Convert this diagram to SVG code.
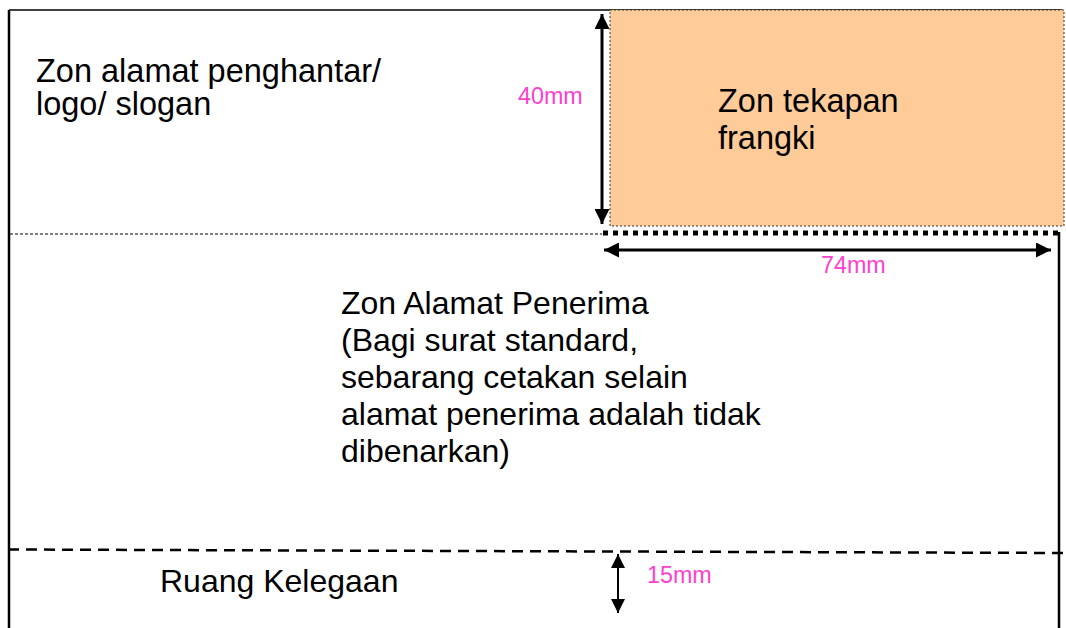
<svg xmlns="http://www.w3.org/2000/svg" width="1066" height="628" viewBox="0 0 1066 628">
<style>
.t{font-family:"Liberation Sans",Arial,sans-serif;fill:#000;font-size:32.5px}
.c{font-size:32px}
.m{font-family:"Liberation Sans",Arial,sans-serif;fill:#FF3FCF;font-size:23.3px}
.ln{stroke:#000;fill:none}
</style>
<defs>
<marker id="ah" viewBox="0 0 10 10" refX="10" refY="5" markerWidth="5" markerHeight="5" orient="auto-start-reverse" markerUnits="strokeWidth">
<path d="M0,0 L10,5 L0,10 z" fill="#000"/>
</marker>
<marker id="ah2" viewBox="0 0 10 10" refX="10" refY="5" markerWidth="7" markerHeight="7" orient="auto-start-reverse" markerUnits="strokeWidth">
<path d="M0,0 L10,5 L0,10 z" fill="#000"/>
</marker>
</defs>
<rect width="1066" height="628" fill="#fff"/>
<g id="envelope">
<line class="ln" x1="9" y1="10" x2="1062" y2="10" stroke="#555" stroke-width="1.5"/>
<line class="ln" x1="9" y1="10" x2="9" y2="628" stroke-width="2.5"/>
<line class="ln" x1="1059" y1="232" x2="1059" y2="628" stroke-width="2.5"/>
</g>
<g id="sender-zone">
<text class="t" x="36" y="82">Zon alamat penghantar/</text>
<text class="t" x="36" y="115">logo/ slogan</text>
</g>
<g id="franking-zone">
<rect x="610" y="10" width="454" height="216" fill="#FFCC99" stroke="#333" stroke-width="1" stroke-dasharray="2,2"/>
<text class="t" x="718" y="112">Zon tekapan</text>
<text class="t" x="718" y="149">frangki</text>
</g>
<g id="recipient-zone">
<text class="t c" x="341" y="314">Zon Alamat Penerima</text>
<text class="t c" x="341" y="351">(Bagi surat standard,</text>
<text class="t c" x="341" y="388">sebarang cetakan selain</text>
<text class="t c" x="341" y="425">alamat penerima adalah tidak</text>
<text class="t c" x="341" y="462">dibenarkan)</text>
</g>
<g id="clearance-zone">
<text class="t c" x="160" y="592">Ruang Kelegaan</text>
</g>
<g id="connectors">
<line class="ln" x1="10" y1="234" x2="602" y2="234" stroke-width="1" stroke-dasharray="3,2"/>
<line class="ln" x1="603" y1="233" x2="1062" y2="233" stroke-width="5" stroke-dasharray="5,5"/>
<line class="ln" x1="602" y1="14" x2="602" y2="224" stroke-width="3" marker-start="url(#ah)" marker-end="url(#ah)"/>
<line class="ln" x1="604" y1="250" x2="1051" y2="250" stroke-width="3" marker-start="url(#ah)" marker-end="url(#ah)"/>
<line class="ln" x1="8" y1="549.5" x2="1066" y2="553" stroke-width="2.5" stroke-dasharray="11,7"/>
<line class="ln" x1="618" y1="554" x2="618" y2="613" stroke-width="2" marker-start="url(#ah2)" marker-end="url(#ah2)"/>
</g>
<g id="labels">
<text class="m" x="518" y="104">40mm</text>
<text class="m" x="821" y="273">74mm</text>
<text class="m" x="647" y="583">15mm</text>
</g>
</svg>
